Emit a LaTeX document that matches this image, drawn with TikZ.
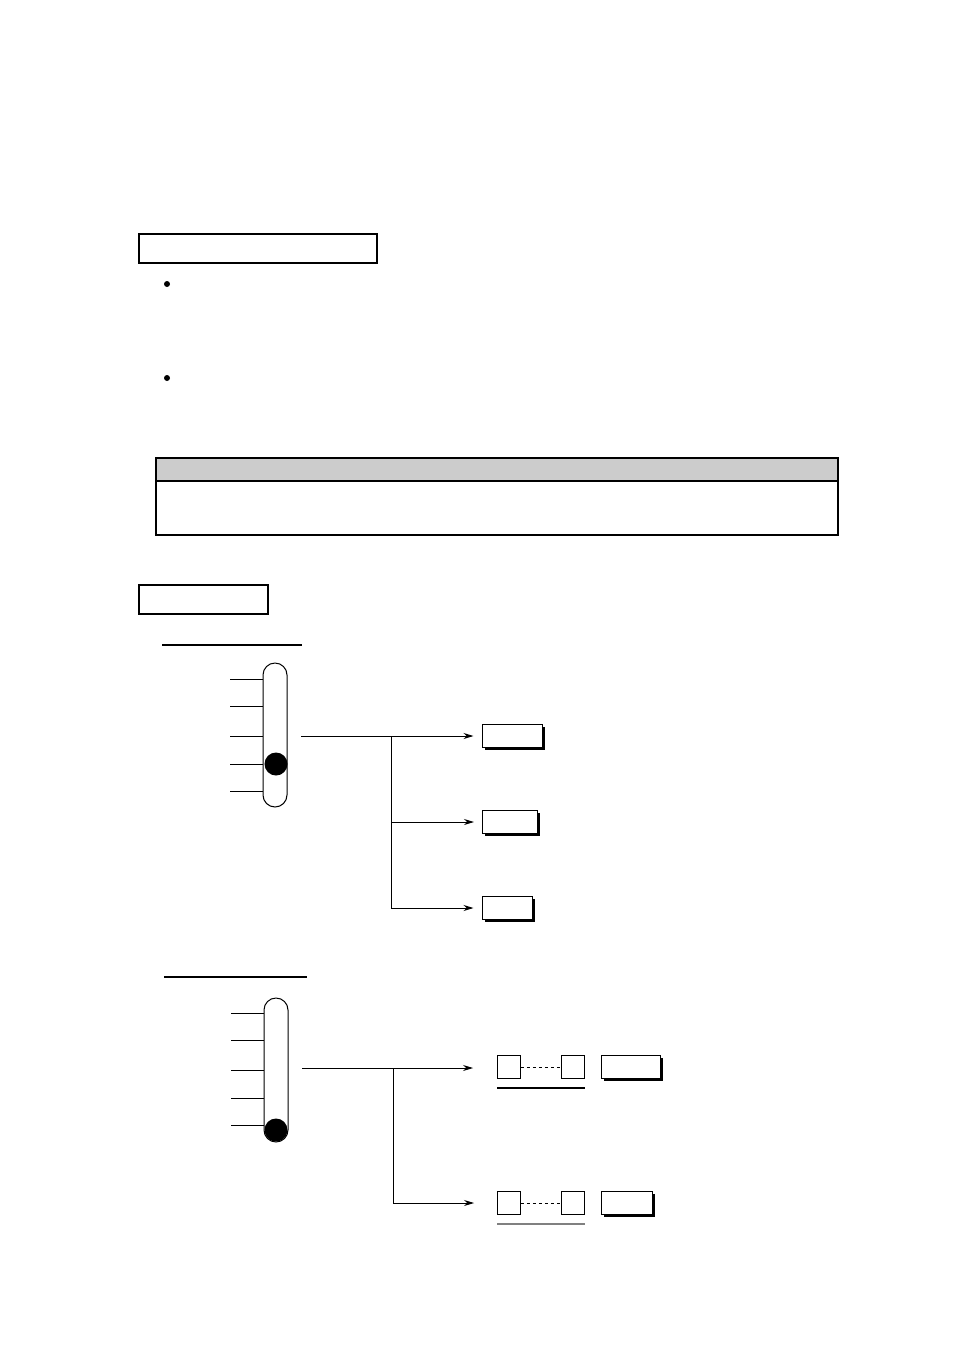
\documentclass[tikz,border=0pt]{standalone}
\usetikzlibrary{arrows.meta,shadows}
\definecolor{hdrgray}{gray}{0.8}
\tikzset{
  framebox/.style={draw, line width=1.5, inner sep=0, anchor=north west},
  keybox/.style={draw, fill=white, line width=1, inner sep=0, minimum height=23,
    drop shadow={shadow xshift=2.5pt, shadow yshift=-2.5pt, fill=black, opacity=1}},
  digbox/.style={draw, line width=0.9, inner sep=0, minimum width=23, minimum height=23},
  slider/.style={draw, line width=1, rounded corners=12, inner sep=0, minimum width=24},
  knob/.style={circle, fill=black, inner sep=0, minimum size=23},
  bullet/.style={circle, fill=black, inner sep=0, minimum size=6},
  tick/.style={line width=1},
  conn/.style={line width=1},
  arr/.style={line width=1, -{Stealth[length=10pt,width=6pt]}, shorten >=8pt},
  dashln/.style={line width=1, dash pattern=on 3pt off 3pt},
  uline/.style={line width=1.2},
}
\begin{document}
\begin{tikzpicture}[x=1pt,y=-1pt]
\useasboundingbox (0,0) rectangle (954,1350);
% header boxes
\node[framebox, minimum width=238, minimum height=29] (hdrA) at (138,233) {};
\node[bullet] (b1) at (167,284) {};
\node[bullet] (b2) at (167,378) {};
% note box
\draw[line width=2, fill=white] (156,458) rectangle (838,535);
\draw[line width=2, fill=hdrgray] (156,458) rectangle (838,481);
\node[framebox, minimum width=129, minimum height=29] (hdrB) at (138,584) {};
% ---------- first diagram ----------
\coordinate (u1a) at (162,645); \coordinate (u1b) at (302,645);
\draw[uline] (u1a) -- (u1b);
\node[slider, minimum height=144] (s1) at (275,735) {};
\foreach \y in {679,706,736,764,791} \draw[tick] (s1.west |- 0,\y) -- ++(-33,0);
\node[knob] (kn1) at (276,764) {};
\node[keybox, minimum width=60] (k1) at (512,736) {};
\node[keybox, minimum width=55] (k2) at (510,822) {};
\node[keybox, minimum width=50] (k3) at (507,908) {};
\coordinate (o1) at (301,736);
\coordinate (j1) at (391,736);
\draw[conn] (o1) -- (j1);
\draw[arr] (j1) -- (k1.west);
\draw[arr] (j1) |- (k2.west);
\draw[arr] (j1) |- (k3.west);
% ---------- second diagram ----------
\coordinate (u2a) at (164,977); \coordinate (u2b) at (307,977);
\draw[uline] (u2a) -- (u2b);
\node[slider, minimum height=144] (s2) at (276,1070) {};
\foreach \y in {1013,1040,1070,1098,1125} \draw[tick] (s2.west |- 0,\y) -- ++(-33,0);
\node[knob] (kn2) at (276,1130) {};
% row 1
\node[digbox] (d1a) at (509,1067) {};
\node[digbox] (d1b) at (573,1067) {};
\draw[dashln] (d1a.east) -- (d1b.west);
\draw[uline] (d1a.south west) ++(0,9) coordinate (ul1a) -- (d1b.south east |- ul1a);
\node[keybox, minimum width=59] (k4) at (631,1067) {};
% row 2
\node[digbox] (d2a) at (509,1203) {};
\node[digbox] (d2b) at (573,1203) {};
\draw[dashln] (d2a.east) -- (d2b.west);
\draw[uline, gray] (d2a.south west) ++(0,9) coordinate (ul2a) -- (d2b.south east |- ul2a);
\node[keybox, minimum width=51] (k5) at (627,1203) {};
% connectors
\coordinate (o2) at (302,1068);
\coordinate (j2) at (393,1068);
\draw[conn] (o2) -- (j2);
\draw[arr] (j2) -- ([xshift=-16pt]d1a.west |- j2);
\draw[arr] (j2) |- ([xshift=-15pt]d2a.west);
\end{tikzpicture}
\end{document}
